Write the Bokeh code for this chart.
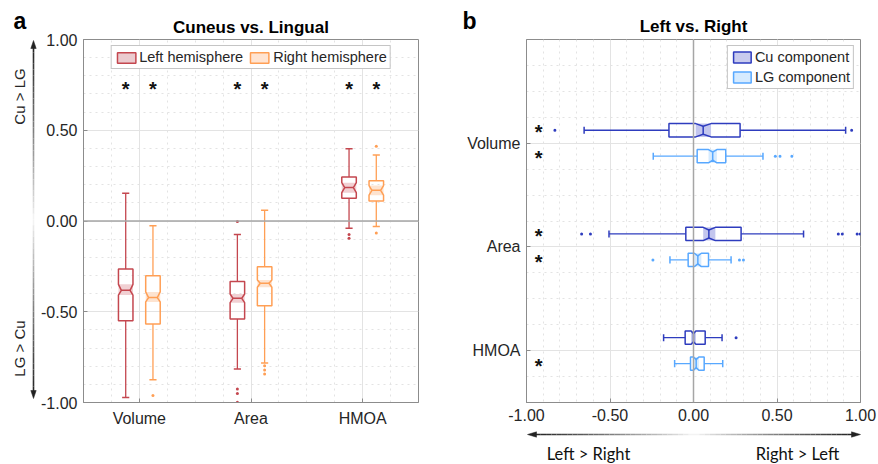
import numpy as np
from bokeh.plotting import figure
from bokeh.layouts import row, column
from bokeh.models import (Range1d, FixedTicker, NumeralTickFormatter, Span, Legend, LegendItem)
from bokeh.core.properties import value
from bokeh.embed import file_html
from bokeh.resources import INLINE

# ---------------- data ----------------
categories = ["Volume", "Area", "HMOA"]
cat_pos = [1, 2, 3]
y_ticks_a = [-1.0, -0.5, 0.0, 0.5, 1.0]
x_ticks_b = [-1.0, -0.5, 0.0, 0.5, 1.0]

# Panel a: Cuneus vs. Lingual
left_whi = [0.153, -0.075, 0.398]
left_q3 = [-0.264, -0.334, 0.243]
left_nhi = [-0.349, -0.402, 0.211]
left_med = [-0.382, -0.426, 0.184]
left_nlo = [-0.408, -0.450, 0.156]
left_q1 = [-0.549, -0.540, 0.126]
left_wlo = [-0.973, -0.815, -0.040]
left_out_cat = [2, 2, 2, 2, 3, 3]
left_out_val = [-0.003, -0.926, -0.950, -0.998, -0.075, -0.095]
left_sig = [True, True, True]

right_whi = [-0.026, 0.059, 0.364]
right_q3 = [-0.301, -0.252, 0.222]
right_nhi = [-0.391, -0.325, 0.195]
right_med = [-0.422, -0.343, 0.169]
right_nlo = [-0.446, -0.365, 0.142]
right_q1 = [-0.567, -0.467, 0.110]
right_wlo = [-0.874, -0.782, -0.030]
right_out_cat = [1, 2, 2, 2, 3, 3]
right_out_val = [-0.962, -0.797, -0.821, -0.843, 0.412, -0.066]
right_sig = [True, True, True]

# Panel b: Left vs. Right
cu_whi = [0.911, 0.659, 0.171]
cu_q3 = [0.279, 0.285, 0.070]
cu_nhi = [0.105, 0.131, 0.014]
cu_med = [0.058, 0.092, 0.000]
cu_nlo = [0.013, 0.058, -0.014]
cu_q1 = [-0.147, -0.046, -0.050]
cu_wlo = [-0.655, -0.506, -0.179]
cu_out_cat = [1, 1, 2, 2, 2, 2, 2, 2, 3]
cu_out_val = [-0.830, 0.947, -0.670, -0.617, 0.867, 0.891, 0.980, 0.998, 0.255]
cu_sig = [True, True, False]

lg_whi = [0.416, 0.225, 0.175]
lg_q3 = [0.193, 0.090, 0.064]
lg_nhi = [0.140, 0.047, 0.032]
lg_med = [0.115, 0.026, 0.016]
lg_nlo = [0.090, 0.005, 0.000]
lg_q1 = [0.022, -0.032, -0.018]
lg_wlo = [-0.241, -0.141, -0.113]
lg_out_cat = [1, 1, 1, 2, 2, 2]
lg_out_val = [0.490, 0.518, 0.589, -0.243, 0.275, 0.299]
lg_sig = [True, True, True]

# ---------------- styles ----------------
RED, RED_SH, RED_LG = "#C4474F", "#F1D0D3", "#EBCBCF"
ORG, ORG_SH, ORG_LG = "#FF9F55", "#FDE3D0", "#FFE4D2"
BLU, BLU_SH, BLU_LG = "#2E3CBE", "#C3C6EE", "#C9CBEE"
LBL, LBL_SH, LBL_LG = "#58A8FF", "#D6EBFF", "#D6EBFF"
GRID = "#E3E3E3"
FRAME = "#8C8C8C"
TXT = "#262626"
FONT = "Liberation Sans"


def no_align(p):
    if "frame_align" in p.properties():
        p.frame_align = False


def style_axes(p):
    no_align(p)
    p.outline_line_color = FRAME
    p.outline_line_width = 1
    for ax in p.axis:
        ax.axis_line_color = FRAME
        ax.major_tick_line_color = FRAME
        ax.major_tick_in = 4
        ax.major_tick_out = 0
        ax.minor_tick_in = 0
        ax.minor_tick_out = 0
        ax.major_label_text_font = FONT
        ax.major_label_text_font_size = "16px"
        ax.major_label_text_color = TXT
    for g in p.grid:
        g.grid_line_color = GRID
        g.grid_line_width = 1
        g.minor_grid_line_color = GRID
        g.minor_grid_line_dash = "dotted"


def draw_boxes(p, pos, whi, q3, nhi, med, nlo, q1, wlo, out_cat, out_val, off,
               color, shade, half, cap, vertical):
    pos = np.asarray(pos, float) + off
    whi, q3, nhi, med, nlo, q1, wlo = [np.asarray(a, float) for a in (whi, q3, nhi, med, nlo, q1, wlo)]
    nh = 0.6 * half

    def sw(a, b):
        return (a, b) if vertical else (b, a)

    if vertical:
        p.quad(left=pos - half, right=pos + half, bottom=nlo, top=nhi,
               fill_color=shade, line_color=None)
    else:
        p.quad(left=nlo, right=nhi, bottom=pos - half, top=pos + half,
               fill_color=shade, line_color=None)
    x0, y0 = sw(np.concatenate([pos, pos]), np.concatenate([q3, q1]))
    x1, y1 = sw(np.concatenate([pos, pos]), np.concatenate([whi, wlo]))
    p.segment(x0=x0, y0=y0, x1=x1, y1=y1, line_color=color, line_width=1.3)
    x0, y0 = sw(np.concatenate([pos - cap, pos - cap]), np.concatenate([whi, wlo]))
    x1, y1 = sw(np.concatenate([pos + cap, pos + cap]), np.concatenate([whi, wlo]))
    p.segment(x0=x0, y0=y0, x1=x1, y1=y1, line_color=color, line_width=1.5)
    pp, vv = [], []
    for c, a, nl, m, nhh, b in zip(pos, q1, nlo, med, nhi, q3):
        pp.append([c - half, c + half, c + half, c + nh, c + half, c + half,
                   c - half, c - half, c - nh, c - half])
        vv.append([a, a, nl, m, nhh, b, b, nhh, m, nl])
    xs, ys = sw(pp, vv)
    p.patches(xs=xs, ys=ys, fill_alpha=0, line_color=color, line_width=1.5)
    x0, y0 = sw(pos - nh, med)
    x1, y1 = sw(pos + nh, med)
    p.segment(x0=x0, y0=y0, x1=x1, y1=y1, line_color=color, line_width=1.5)
    oc = np.asarray(out_cat, float) + off
    ox, oy = sw(oc, np.asarray(out_val, float))
    p.scatter(x=ox, y=oy, size=3, marker="circle", fill_color=color, line_color=None)


# ================= Panel a =================
pa = figure(width=403, height=464, x_range=Range1d(0.5, 3.5), y_range=Range1d(-1, 1),
            output_backend="svg", toolbar_location=None, title="Cuneus vs. Lingual",
            min_border_left=46, min_border_right=22, min_border_top=39, min_border_bottom=62)
pa.title.align = "center"
pa.title.text_font = FONT
pa.title.text_font_size = "17px"
pa.title.text_font_style = "bold"
pa.title.text_color = "black"
pa.title.standoff = 6
pa.xaxis.ticker = FixedTicker(ticks=cat_pos,
                              minor_ticks=[0.75, 1.25, 1.5, 1.75, 2.25, 2.5, 2.75, 3.25])
pa.xaxis.major_label_overrides = {c: n for c, n in zip(cat_pos, categories)}
pa.yaxis.ticker = FixedTicker(ticks=y_ticks_a, minor_ticks=list(np.round(np.arange(-1, 1.001, 0.1), 2)))
pa.yaxis.formatter = NumeralTickFormatter(format="0.00")
style_axes(pa)
pa.xaxis.major_label_standoff = 7
pa.yaxis.major_label_standoff = 6
pa.add_layout(Span(location=0, dimension="width", line_color="#A6A6A6", line_width=1.5))

OFF_A = 0.122
draw_boxes(pa, cat_pos, left_whi, left_q3, left_nhi, left_med, left_nlo, left_q1, left_wlo,
           left_out_cat, left_out_val, -OFF_A, RED, RED_SH, 0.065, 0.032, True)
draw_boxes(pa, cat_pos, right_whi, right_q3, right_nhi, right_med, right_nlo, right_q1, right_wlo,
           right_out_cat, right_out_val, OFF_A, ORG, ORG_SH, 0.065, 0.032, True)

star_x = [c - OFF_A for c, s in zip(cat_pos, left_sig) if s] + [c + OFF_A for c, s in zip(cat_pos, right_sig) if s]
pa.text(x=star_x, y=[0.73] * len(star_x), text=["*"] * len(star_x), text_align="center",
        text_baseline="middle", text_font=value(FONT), text_font_style="bold",
        text_font_size="20px", text_color="#111111")

nan1 = [np.nan]
la = pa.quad(left=nan1, right=nan1, top=nan1, bottom=nan1, fill_color=RED_LG, line_color=RED, line_width=1.5)
ra = pa.quad(left=nan1, right=nan1, top=nan1, bottom=nan1, fill_color=ORG_LG, line_color=ORG, line_width=1.5)
leg_a = Legend(items=[LegendItem(label="Left hemisphere", renderers=[la]),
                      LegendItem(label="Right hemisphere", renderers=[ra])],
               orientation="horizontal", location="top_center", margin=6, padding=3, spacing=5,
               glyph_width=23, glyph_height=13, label_height=14, label_standoff=2,
               label_text_font=FONT, label_text_font_size="14.5px", label_text_color=TXT,
               border_line_color=FRAME, background_fill_color="white", background_fill_alpha=1)
pa.add_layout(leg_a)

# ================= Panel b =================
pb = figure(width=438, height=390, x_range=Range1d(-1, 1), y_range=Range1d(3.5, 0),
            output_backend="svg", toolbar_location=None,
            min_border_left=86, min_border_right=18, min_border_top=1, min_border_bottom=26)
pb.title.visible = False
pb.yaxis.ticker = FixedTicker(ticks=cat_pos,
                              minor_ticks=[0.25, 0.5, 0.75, 1.25, 1.5, 1.75, 2.25, 2.5, 2.75, 3.25])
pb.yaxis.major_label_overrides = {c: n for c, n in zip(cat_pos, categories)}
pb.xaxis.ticker = FixedTicker(ticks=x_ticks_b, minor_ticks=list(np.round(np.arange(-1, 1.001, 0.1), 2)))
pb.xaxis.formatter = NumeralTickFormatter(format="0.00")
style_axes(pb)
pb.xaxis.major_label_standoff = 6
pb.yaxis.major_label_standoff = 6
pb.add_layout(Span(location=0, dimension="height", line_color="#A6A6A6", line_width=1.5))

OFF_B = 0.125
draw_boxes(pb, cat_pos, cu_whi, cu_q3, cu_nhi, cu_med, cu_nlo, cu_q1, cu_wlo,
           cu_out_cat, cu_out_val, -OFF_B, BLU, BLU_SH, 0.064, 0.034, False)
draw_boxes(pb, cat_pos, lg_whi, lg_q3, lg_nhi, lg_med, lg_nlo, lg_q1, lg_wlo,
           lg_out_cat, lg_out_val, OFF_B, LBL, LBL_SH, 0.064, 0.034, False)

STAR_DY = 2.0 / (363 / 3.5)
star_y = [c - OFF_B + STAR_DY for c, s in zip(cat_pos, cu_sig) if s] + \
         [c + OFF_B + STAR_DY for c, s in zip(cat_pos, lg_sig) if s]
pb.text(x=[-0.928] * len(star_y), y=star_y, text=["*"] * len(star_y), text_align="center",
        text_baseline="middle", text_font=value(FONT), text_font_style="bold",
        text_font_size="20px", text_color="#111111")

cb = pb.quad(left=nan1, right=nan1, top=nan1, bottom=nan1, fill_color=BLU_LG, line_color=BLU, line_width=1.5)
lb = pb.quad(left=nan1, right=nan1, top=nan1, bottom=nan1, fill_color=LBL_LG, line_color=LBL, line_width=1.5)
leg_b = Legend(items=[LegendItem(label="Cu component", renderers=[cb]),
                      LegendItem(label="LG component", renderers=[lb])],
               orientation="vertical", location="top_right", margin=6, padding=3, spacing=4,
               glyph_width=22, glyph_height=14, label_height=14, label_standoff=2,
               label_text_font=FONT, label_text_font_size="14.5px", label_text_color=TXT,
               border_line_color=FRAME, background_fill_color="white", background_fill_alpha=1)
pb.add_layout(leg_b)


# ================= strips for panel letters, title b and direction arrows =================
# each strip's coordinates are page pixels: x to the right, y = -(pixels from page top)
def strip(w, h, x0, x1, ytop, ybot):
    s = figure(width=w, height=h, x_range=Range1d(x0, x1), y_range=Range1d(-ybot, -ytop),
               output_backend="svg", toolbar_location=None, x_axis_type=None, y_axis_type=None,
               min_border=0)
    no_align(s)
    s.title.visible = False
    s.outline_line_color = None
    return s


def put_text(s, x, y, t, size, bold=False, angle=0.0, align="center",
             font=FONT, color="black"):
    s.text(x=[x], y=[-y], text=[t], angle=angle, text_align=align, text_baseline="middle",
           text_font=value(font), text_font_style="bold" if bold else "normal",
           text_font_size=size, text_color=color)


def gradient(s, x0, y0, x1, y1, n=60):
    t = np.linspace(0, 1, n + 1)
    ta, tb = t[:-1], t[1:]
    d = np.abs((ta + tb) / 2 - 0.5) * 2
    g = np.round(250 - (250 - 35) * d ** 0.85).astype(int)
    cols = ["#%02x%02x%02x" % (v, v, v) for v in g]
    s.segment(x0=x0 + (x1 - x0) * ta, y0=-(y0 + (y1 - y0) * ta),
              x1=x0 + (x1 - x0) * tb, y1=-(y0 + (y1 - y0) * tb),
              line_color=cols, line_width=1.6, line_cap="butt")


def heads(s, xs, ys):
    s.patches(xs=xs, ys=[[-v for v in yy] for yy in ys], fill_color="#222222",
              line_color="#222222", line_width=0.5)


lft = strip(37, 464, 0, 37, 0, 464)
put_text(lft, 13, 20, "a", "23px", bold=True, align="left")
put_text(lft, 19, 96, "Cu > LG", "15px", angle=np.pi / 2, color=TXT)
put_text(lft, 19, 348, "LG > Cu", "15px", angle=np.pi / 2, color=TXT)
gradient(lft, 33, 46, 33, 392)
heads(lft, [[33, 30.3, 35.7], [33, 30.3, 35.7]], [[40, 48, 48], [398, 390, 390]])

rtop = strip(438, 38, 440, 878, 0, 38)
put_text(rtop, 462, 20, "b", "23px", bold=True, align="left")
put_text(rtop, 693, 26, "Left vs. Right", "17px", bold=True)

bot = strip(438, 36, 440, 878, 428, 464)
gradient(bot, 535, 434, 852, 434)
heads(bot, [[527, 536, 536], [860, 851, 851]], [[434, 431.3, 436.7], [434, 431.3, 436.7]])
put_text(bot, 588, 453, "Left > Right", "16.5px", font="Lato", color="#111111")
put_text(bot, 797, 453, "Right > Left", "16.5px", font="Lato", color="#111111")

layout = row(lft, pa, column(rtop, pb, bot))
open("out.html", "w").write(file_html(layout, INLINE))
